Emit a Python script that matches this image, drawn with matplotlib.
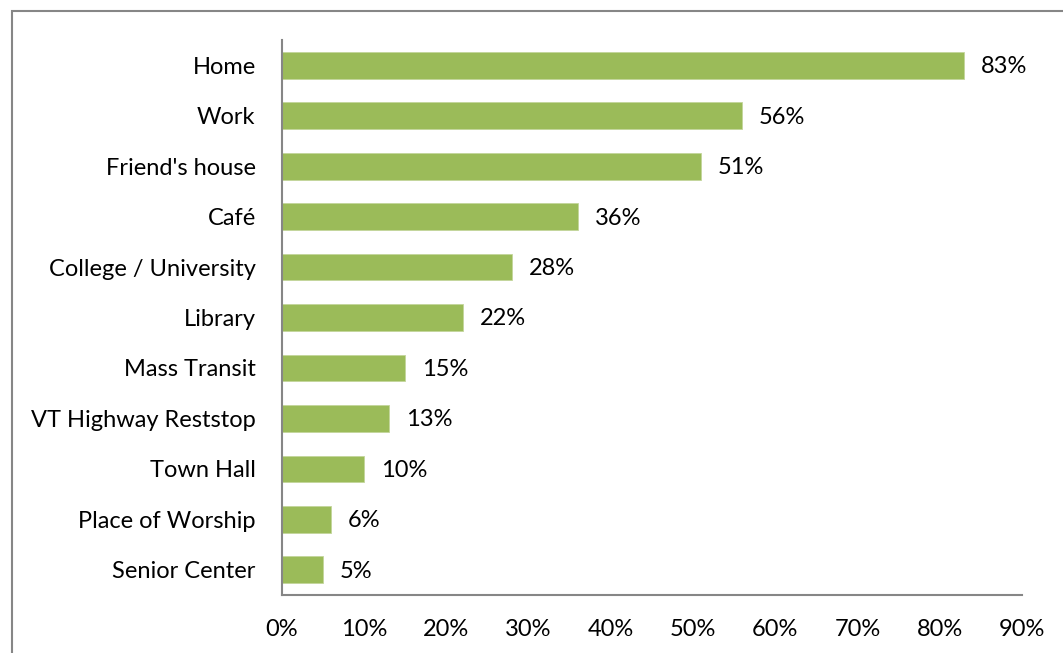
import matplotlib

matplotlib.use("Agg")
import matplotlib.pyplot as plt
from matplotlib.patches import Rectangle
from matplotlib.ticker import FuncFormatter

# where people go online, share of respondents (%)
places = [
    "Home",
    "Work",
    "Friend's house",
    "Café",
    "College / University",
    "Library",
    "Mass Transit",
    "VT Highway Reststop",
    "Town Hall",
    "Place of Worship",
    "Senior Center",
]
shares = [83, 56, 51, 36, 28, 22, 15, 13, 10, 6, 5]
xticks = [0, 10, 20, 30, 40, 50, 60, 70, 80, 90]

GREEN = "#9bbb59"
GRAY = "#868686"
FS = 17

plt.rcParams["font.family"] = ["Lato", "DejaVu Sans"]

fig = plt.figure(figsize=(10.63, 6.53), dpi=100)
ax = fig.add_axes([0.2653, 0.0888, 0.6961, 0.8499])

ypos = list(range(len(places)))
ax.barh(ypos, shares, height=0.53, color=GREEN, edgecolor="#c3d69b", linewidth=0.6)
for y, v in zip(ypos, shares):
    ax.annotate(f"{v}%", (v, y), xytext=(12, -1), textcoords="offset points",
                va="center", ha="left", fontsize=FS)

ax.set_xlim(0, 90)
ax.set_ylim(len(places) - 0.5, -0.5)
ax.set_xticks(xticks)
ax.xaxis.set_major_formatter(FuncFormatter(lambda v, _: f"{v:.0f}%"))
ax.set_yticks(ypos)
ax.set_yticklabels(places)
ax.tick_params(axis="both", length=0, labelsize=FS)
ax.tick_params(axis="y", pad=19)
ax.tick_params(axis="x", pad=17)

for side in ("top", "right"):
    ax.spines[side].set_visible(False)
for side in ("left", "bottom"):
    ax.spines[side].set_color(GRAY)
    ax.spines[side].set_linewidth(1.5)

# chart-area frame, running off the right and bottom edges
fig.patches.append(Rectangle((12 / 1063, -0.05), 1.1, (653 - 11) / 653 + 0.05,
                             transform=fig.transFigure, fill=False,
                             edgecolor=GRAY, linewidth=1.5))

fig.savefig("out.png", dpi=100, facecolor="white")
